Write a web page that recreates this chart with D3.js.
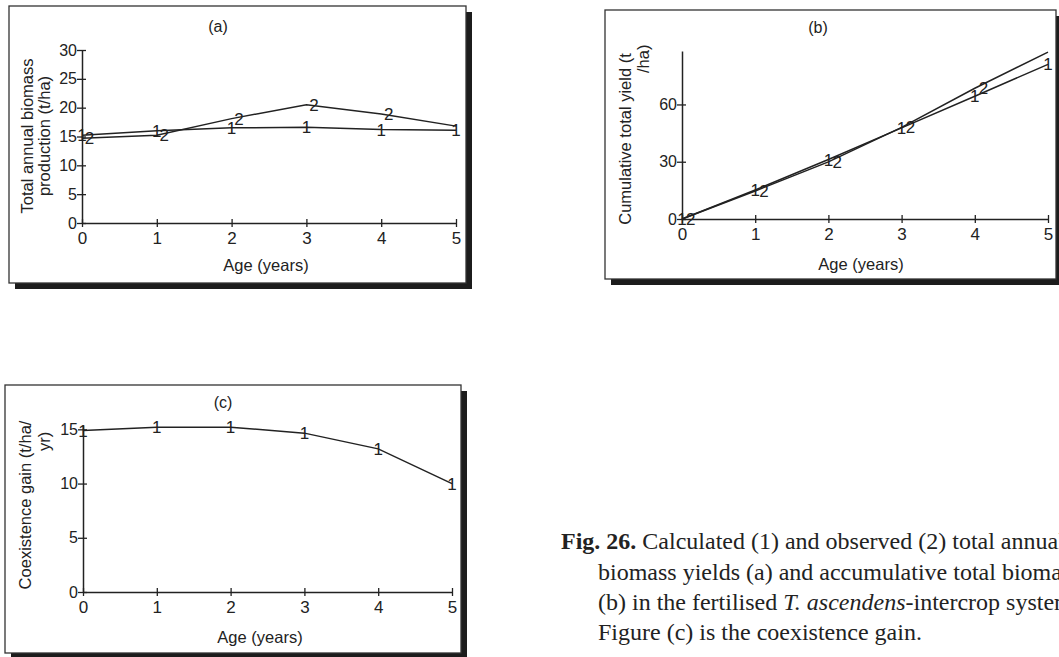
<!DOCTYPE html>
<html>
<head>
<meta charset="utf-8">
<script src="https://cdn.jsdelivr.net/npm/d3@7"></script>
<style>
  body { margin: 0; background: #fff; }
  svg { display: block; }
  text { font-family: "Liberation Sans", Arial, sans-serif; fill: #222; }
  .caption text { font-family: "Liberation Serif", "Times New Roman", serif; }
</style>
</head>
<body>
<svg id="chart" width="1059" height="657"></svg>
<script>
// data
var ages = [0, 1, 2, 3, 4, 5];
var annualCalc = [15.2, 16.0, 16.5, 16.6, 16.2, 16.1];
var annualObs = [14.7, 15.2, 18.1, 20.5, 18.9, 16.8];
var cumCalc = [0, 15.2, 31.2, 47.7, 64.3, 81.0];
var cumObs = [0, 14.7, 29.9, 48.0, 68.5, 87.4];
var coexGain = [14.9, 15.2, 15.2, 14.65, 13.2, 10.0];

var ageTicks = [0, 1, 2, 3, 4, 5];
var annualTicks = [0, 5, 10, 15, 20, 25, 30];
var cumTicks = [0, 30, 60];
var gainTicks = [0, 5, 10, 15];

var svg = d3.select("#chart");
var ink = "#222";

// one boxed panel
function panel(opt) {
  var g = svg.append("g");

  // drop shadow + frame
  g.append("rect")
    .attr("x", opt.box[0] + 6).attr("y", opt.box[1] + 6)
    .attr("width", opt.box[2]).attr("height", opt.box[3])
    .attr("fill", "#1c1c1c");
  g.append("rect")
    .attr("x", opt.box[0]).attr("y", opt.box[1])
    .attr("width", opt.box[2]).attr("height", opt.box[3])
    .attr("fill", "#fff").attr("stroke", "#333").attr("stroke-width", 1.3);

  var x = d3.scaleLinear().domain([0, 5]).range([opt.px[0], opt.px[1]]);
  var y = d3.scaleLinear().domain([0, opt.yMax]).range([opt.py[1], opt.py[0]]);

  // x axis, ticks crossing the line
  var xa = g.append("g")
    .attr("transform", "translate(0," + opt.py[1] + ")")
    .call(d3.axisBottom(x).tickValues(ageTicks).tickFormat(d3.format("d")).tickSizeOuter(0));
  xa.select(".domain").attr("stroke", ink).attr("stroke-width", 1.5);
  xa.selectAll(".tick line").attr("y1", -4).attr("y2", 4).attr("stroke", ink).attr("stroke-width", 1.3);
  xa.selectAll(".tick text").attr("y", 9).attr("font-size", 17).attr("font-family", "Liberation Sans").attr("fill", ink);

  // y axis
  var ya = g.append("g")
    .attr("transform", "translate(" + opt.px[0] + ",0)")
    .call(d3.axisLeft(y).tickValues(opt.yTicks).tickFormat(d3.format("d")).tickSizeOuter(0));
  ya.select(".domain").attr("stroke", ink).attr("stroke-width", 1.5);
  ya.selectAll(".tick line").attr("x1", -5).attr("x2", 4).attr("stroke", ink).attr("stroke-width", 1.3);
  ya.selectAll(".tick text").attr("x", -5).attr("font-size", 16).attr("font-family", "Liberation Sans").attr("fill", ink);

  // series: lines + numeric markers
  var line = d3.line().x(function(d) { return x(d[0]); }).y(function(d) { return y(d[1]); });
  opt.series.forEach(function(s) {
    var pts = ages.map(function(a, i) { return [a, s.values[i]]; });
    g.append("path").datum(pts)
      .attr("d", line).attr("fill", "none")
      .attr("stroke", ink).attr("stroke-width", 1.5);
    g.selectAll(null)
      .data(pts.filter(function(p) { return p[0] + s.shift <= 5; }))
      .enter().append("text")
      .attr("x", function(p) { return x(p[0] + s.shift); })
      .attr("y", function(p) { return y(p[1]); })
      .attr("dy", "0.36em")
      .attr("text-anchor", "middle")
      .attr("font-size", 17)
      .text(s.mark);
  });

  // panel letter
  g.append("text")
    .attr("x", opt.title[0]).attr("y", opt.title[1])
    .attr("text-anchor", "middle").attr("dy", "0.35em")
    .attr("font-size", 16).text(opt.letter);

  // x title
  g.append("text")
    .attr("x", opt.xTitle[0]).attr("y", opt.xTitle[1])
    .attr("text-anchor", "middle").attr("dy", "0.35em")
    .attr("font-size", 16.5).text("Age (years)");

  // y title, two rotated lines
  opt.yTitle.forEach(function(t) {
    g.append("text")
      .attr("transform", "translate(" + t.x + "," + t.y + ") rotate(-90)")
      .attr("text-anchor", t.anchor).attr("dy", "0.35em")
      .attr("font-size", 16.5).text(t.text);
  });
}

panel({
  letter: "(a)",
  box: [9, 6, 457, 277],
  px: [82, 456], py: [50, 223],
  yMax: 30, yTicks: annualTicks,
  series: [
    { values: annualCalc, mark: "1", shift: 0 },
    { values: annualObs, mark: "2", shift: 0.1 }
  ],
  title: [218, 26],
  xTitle: [266, 265],
  yTitle: [
    { text: "Total annual biomass", x: 27, y: 136, anchor: "middle" },
    { text: "production (t/ha)", x: 44, y: 136, anchor: "middle" }
  ]
});

panel({
  letter: "(b)",
  box: [605, 10, 451, 269],
  px: [682, 1048], py: [51, 219],
  yMax: 88, yTicks: cumTicks,
  series: [
    { values: cumCalc, mark: "1", shift: 0 },
    { values: cumObs, mark: "2", shift: 0.12 }
  ],
  title: [818, 27],
  xTitle: [861, 264],
  yTitle: [
    { text: "Cumulative total yield (t", x: 625, y: 139, anchor: "middle" },
    { text: "/ha)", x: 643, y: 73, anchor: "start" }
  ]
});

panel({
  letter: "(c)",
  box: [5, 385, 456, 268],
  px: [83, 452], py: [425, 592],
  yMax: 15.4, yTicks: gainTicks,
  series: [
    { values: coexGain, mark: "1", shift: 0 }
  ],
  title: [223, 402],
  xTitle: [260, 637],
  yTitle: [
    { text: "Coexistence gain (t/ha/", x: 25, y: 505, anchor: "middle" },
    { text: "yr)", x: 44, y: 451, anchor: "start" }
  ]
});

// caption
var cap = svg.append("g").attr("class", "caption").attr("font-size", 24);
var capLines = [
  { x: 561, y: 549, parts: [["Fig. 26.", "bold"], [" Calculated (1) and observed (2) total annual", ""]] },
  { x: 598, y: 580, parts: [["biomass yields (a) and accumulative total biomass", ""]] },
  { x: 598, y: 610, parts: [["(b) in the fertilised ", ""], ["T. ascendens", "italic"], ["-intercrop system.", ""]] },
  { x: 598, y: 640, parts: [["Figure (c) is the coexistence gain.", ""]] }
];
capLines.forEach(function(l) {
  var t = cap.append("text").attr("x", l.x).attr("y", l.y);
  l.parts.forEach(function(p) {
    var s = t.append("tspan").text(p[0]);
    if (p[1] === "bold") s.attr("font-weight", "bold");
    if (p[1] === "italic") s.attr("font-style", "italic");
  });
});
</script>
</body>
</html>
